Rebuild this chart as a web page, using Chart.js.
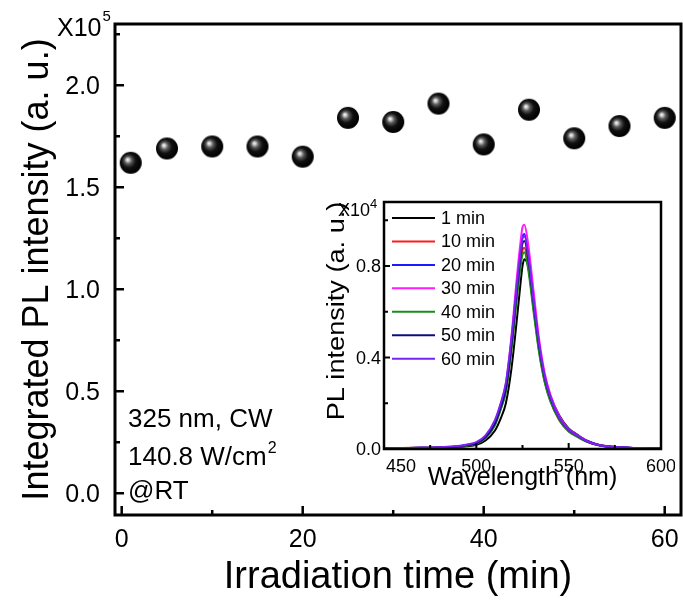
<!DOCTYPE html>
<html>
<head>
<meta charset="utf-8">
<script src="https://cdn.jsdelivr.net/npm/chart.js@4.4.0/dist/chart.umd.min.js"></script>
<style>
  html, body { margin: 0; padding: 0; background: #fff; }
  #wrap { position: relative; width: 683px; height: 603px; overflow: hidden; }
  #mainChart { position: absolute; left: 0; top: 0; }
  #insetChart { position: absolute; left: 300px; top: 185px; }
</style>
</head>
<body>
<div id="wrap">
  <canvas id="mainChart" width="683" height="603"></canvas>
  <canvas id="insetChart" width="375" height="310"></canvas>
</div>
<script>
// ---- main plot data (intensity in units of 1e5) ----
const irradiationTimes = [1, 5, 10, 15, 20, 25, 30, 35, 40, 45, 50, 55, 60];
const integratedPL = [1.62, 1.69, 1.70, 1.70, 1.65, 1.84, 1.82, 1.91, 1.71, 1.88, 1.74, 1.80, 1.84];

// ---- inset spectra (intensity in units of 1e4) ----
const wavelengths = [450, 460, 470, 480, 490, 495, 500, 505, 510, 513, 516, 519, 522, 524, 525,
                     526, 528, 531, 534, 537, 540, 545, 550, 555, 560, 565, 570, 580, 590, 600];
const pl1min  = [.002,.003,.004,.005,.008,.012,.018,.037,.08,.13,.20,.35,.57,.73,.80,.83,.80,.63,.45,.32,.235,.145,.09,.061,.036,.021,.013,.007,.004,.003];
const pl10min = [.003,.004,.005,.006,.01,.016,.024,.049,.106,.172,.255,.44,.678,.818,.87,.88,.81,.615,.43,.297,.213,.126,.078,.053,.031,.018,.011,.006,.004,.003];
const pl20min = [.003,.004,.005,.007,.011,.017,.025,.053,.113,.183,.273,.47,.724,.874,.93,.94,.865,.658,.46,.32,.23,.136,.085,.057,.034,.02,.012,.007,.004,.003];
const pl30min = [.003,.004,.005,.007,.012,.018,.026,.055,.118,.19,.285,.49,.755,.91,.97,.98,.90,.69,.48,.333,.24,.142,.088,.06,.035,.021,.013,.007,.004,.003];
const pl40min = [.003,.004,.005,.006,.01,.015,.023,.048,.103,.168,.25,.43,.662,.80,.85,.86,.79,.60,.42,.292,.21,.125,.077,.052,.031,.018,.011,.006,.004,.003];
const pl50min = [.003,.004,.005,.007,.011,.017,.025,.052,.11,.178,.265,.455,.70,.846,.90,.91,.84,.64,.45,.312,.226,.134,.084,.057,.034,.02,.012,.007,.004,.003];
const pl60min = [.003,.004,.005,.008,.013,.02,.03,.06,.125,.195,.29,.48,.72,.865,.92,.93,.855,.65,.46,.318,.23,.136,.085,.057,.034,.02,.012,.007,.004,.003];
const spectrumLabels = ['1 min', '10 min', '20 min', '30 min', '40 min', '50 min', '60 min'];
const spectrumSeries = [pl1min, pl10min, pl20min, pl30min, pl40min, pl50min, pl60min];
const spectrumColors = ['#000000', '#ff1a1a', '#1a1aff', '#ff1aff', '#1a8c1a', '#0d0d80', '#7a22f0'];

const FONT = "'Liberation Sans', Arial, sans-serif";

// shaded black ball used as the marker
function makeSphere(r) {
    const c = document.createElement('canvas');
    c.width = c.height = 2 * r + 2;
    const g = c.getContext('2d');
    const cx = r + 1, cy = r + 1;
    const grad = g.createRadialGradient(cx - r * 0.3, cy - r * 0.3, 0, cx - r * 0.1, cy - r * 0.1, r * 1.05);
    grad.addColorStop(0, '#ffffff');
    grad.addColorStop(0.12, '#d0d0d0');
    grad.addColorStop(0.32, '#5a5a5a');
    grad.addColorStop(0.6, '#111111');
    grad.addColorStop(1, '#000000');
    g.fillStyle = grad;
    g.beginPath();
    g.arc(cx, cy, r, 0, Math.PI * 2);
    g.fill();
    return c;
}

// frame box, inward major/minor ticks and tick labels on left and bottom
const frameTicks = {
    id: 'frameTicks',
    afterDatasetsDraw(chart, args, opts) {
        const { ctx, chartArea: a, scales } = chart;
        ctx.save();
        ctx.strokeStyle = '#000';
        ctx.fillStyle = '#000';
        ctx.lineWidth = opts.tickWidth;
        ctx.font = opts.fontSize + 'px ' + FONT;
        ctx.textBaseline = 'alphabetic';
        ctx.beginPath();
        ['x', 'y'].forEach(id => {
            const s = scales[id];
            const vals = s.ticks.map(t => t.value);
            const step = vals[1] - vals[0];
            const minors = vals.map(v => v - step / 2);
            minors.push(vals[vals.length - 1] + step / 2);
            const draw = (v, len) => {
                if (v < s.min || v > s.max) return;
                const p = s.getPixelForValue(v);
                if (id === 'x') { ctx.moveTo(p, a.bottom); ctx.lineTo(p, a.bottom - len); }
                else { ctx.moveTo(a.left, p); ctx.lineTo(a.left + len, p); }
            };
            vals.forEach(v => draw(v, opts.major));
            minors.forEach(v => draw(v, opts.minor));

            s.ticks.forEach((t, i) => {
                const p = s.getPixelForValue(t.value);
                if (id === 'x') {
                    // first label of the inset sits just right of the axis
                    const shift = (i === 0 && opts.firstXLeft) ? 'left' : 'center';
                    ctx.textAlign = shift;
                    ctx.fillText(t.label, shift === 'left' ? p + 2 : p, a.bottom + opts.xLabelDrop);
                } else {
                    ctx.textAlign = 'right';
                    ctx.fillText(t.label, a.left - opts.yLabelGap, p + opts.fontSize * 0.358);
                }
            });
        });
        ctx.stroke();
        ctx.lineWidth = opts.frameWidth;
        ctx.strokeRect(a.left, a.top, a.right - a.left, a.bottom - a.top);
        ctx.restore();
    }
};

// text written on the main plot
const mainText = {
    id: 'mainText',
    afterDraw(chart) {
        const { ctx, chartArea: a } = chart;
        ctx.save();
        ctx.fillStyle = '#000';
        ctx.textBaseline = 'alphabetic';
        ctx.textAlign = 'left';
        ctx.font = '25px ' + FONT;
        const x0 = a.left - 58;
        ctx.fillText('X10', x0, a.top + 12);
        const w = ctx.measureText('X10').width;
        ctx.font = '15px ' + FONT;
        ctx.fillText('5', x0 + w + 1, a.top - 3);

        ctx.font = '26px ' + FONT;
        const tx = a.left + 13;
        ctx.fillText('325 nm, CW', tx, a.bottom - 88);
        ctx.fillText('140.8 W/cm', tx, a.bottom - 50);
        const w2 = ctx.measureText('140.8 W/cm').width;
        ctx.font = '16px ' + FONT;
        ctx.fillText('2', tx + w2 + 1, a.bottom - 62);
        ctx.font = '26px ' + FONT;
        ctx.fillText('@RT', tx, a.bottom - 16);
        ctx.restore();
    }
};

// inset: legend, y title and exponent
const insetText = {
    id: 'insetText',
    afterDraw(chart) {
        const { ctx, chartArea: a } = chart;
        ctx.save();
        ctx.fillStyle = '#000';
        ctx.textAlign = 'left';
        ctx.textBaseline = 'alphabetic';
        ctx.font = '18px ' + FONT;
        const x0 = a.left - 46;
        ctx.fillText('X10', x0, a.top + 14);
        const w = ctx.measureText('X10').width;
        ctx.font = '13px ' + FONT;
        ctx.fillText('4', x0 + w, a.top + 6);

        // y title, stretched along its length like the original
        ctx.save();
        ctx.translate(a.left - 40, a.top + 109);
        ctx.rotate(-Math.PI / 2);
        ctx.scale(1.18, 1);
        ctx.font = '23px ' + FONT;
        ctx.textAlign = 'center';
        ctx.fillText('PL intensity (a. u.)', 0, 0);
        ctx.restore();

        // legend
        ctx.font = '18px ' + FONT;
        ctx.textBaseline = 'middle';
        chart.data.datasets.forEach((ds, i) => {
            const y = a.top + 16 + i * 23.45;
            ctx.strokeStyle = ds.borderColor;
            ctx.lineWidth = 2;
            ctx.beginPath();
            ctx.moveTo(a.left + 8, y);
            ctx.lineTo(a.left + 51, y);
            ctx.stroke();
            ctx.fillText(ds.label, a.left + 57, y + 1);
        });
        ctx.restore();
    }
};

const sphere = makeSphere(11);

function fixBox(prop, size) {
    return s => {
        s[prop] = size;
        s.paddingLeft = s.paddingRight = s.paddingTop = s.paddingBottom = 0;
    };
}

// ===== MAIN CHART =====
new Chart(document.getElementById('mainChart'), {
    type: 'scatter',
    data: {
        datasets: [{
            data: irradiationTimes.map((t, i) => ({ x: t, y: integratedPL[i] })),
            pointStyle: sphere,
            pointRadius: 11,
            showLine: false
        }]
    },
    options: {
        responsive: false,
        animation: false,
        events: [],
        layout: { autoPadding: false, padding: { top: 24, right: 2, left: 0, bottom: 0 } },
        plugins: {
            legend: { display: false },
            tooltip: { enabled: false },
            frameTicks: { major: 9, minor: 5, tickWidth: 2.5, frameWidth: 3, fontSize: 25, xLabelDrop: 32, yLabelGap: 15 }
        },
        scales: {
            x: {
                type: 'linear',
                min: -0.74,
                max: 61.8,
                afterFit: fixBox('height', 88),
                grid: { display: false, drawTicks: false },
                border: { display: false },
                ticks: { display: false, stepSize: 20, includeBounds: false, callback: v => String(v) },
                title: {
                    display: true, text: 'Irradiation time (min)', color: '#000',
                    font: { family: FONT, size: 38 }, padding: { top: 0, bottom: 3 }
                }
            },
            y: {
                min: -0.106,
                max: 2.30,
                afterFit: fixBox('width', 115),
                grid: { display: false, drawTicks: false },
                border: { display: false },
                ticks: { display: false, stepSize: 0.5, includeBounds: false, callback: v => v.toFixed(1) },
                title: {
                    display: true, text: 'Integrated PL intensity (a. u.)', color: '#000',
                    font: { family: FONT, size: 36 }, padding: { top: 16, bottom: 0 }
                }
            }
        }
    },
    plugins: [frameTicks, mainText]
});

// ===== INSET CHART =====
new Chart(document.getElementById('insetChart'), {
    type: 'line',
    data: {
        datasets: spectrumSeries.map((vals, i) => ({
            label: spectrumLabels[i],
            data: wavelengths.map((w, j) => ({ x: w, y: vals[j] })),
            borderColor: spectrumColors[i],
            borderWidth: 2,
            pointRadius: 0,
            cubicInterpolationMode: 'monotone',
            order: spectrumSeries.length - 1 - i
        }))
    },
    options: {
        responsive: false,
        animation: false,
        events: [],
        layout: { autoPadding: false, padding: { top: 17, right: 14, left: 0, bottom: 0 } },
        plugins: {
            legend: { display: false },
            tooltip: { enabled: false },
            frameTicks: { major: 6, minor: 4, tickWidth: 2, frameWidth: 2.5, fontSize: 18, xLabelDrop: 23, yLabelGap: 3, firstXLeft: true }
        },
        scales: {
            x: {
                type: 'linear',
                min: 450,
                max: 600,
                afterFit: fixBox('height', 46),
                grid: { display: false, drawTicks: false },
                border: { display: false },
                ticks: { display: false, stepSize: 50, includeBounds: false, callback: v => String(v) },
                title: {
                    display: true, text: 'Wavelength (nm)', color: '#000',
                    font: { family: FONT, size: 25 }, padding: { top: 0, bottom: 2 }
                }
            },
            y: {
                min: 0,
                max: 1.08,
                afterFit: fixBox('width', 84),
                grid: { display: false, drawTicks: false },
                border: { display: false },
                ticks: { display: false, stepSize: 0.4, includeBounds: false, callback: v => v.toFixed(1) }
            }
        }
    },
    plugins: [frameTicks, insetText]
});
</script>
</body>
</html>
